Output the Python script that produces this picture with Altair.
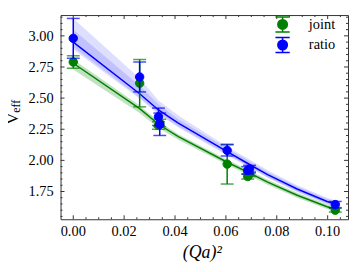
import altair as alt
import pandas as pd

# ---------------- data ----------------
series = ["joint", "ratio"]
colors = ["#008000", "#0000ff"]

qa2 = [0.0, 0.0261, 0.0335, 0.0340, 0.0605, 0.0686, 0.0693, 0.1030]
joint_v = [2.79, 2.62, 2.28, 2.30, 1.97, 1.87, 1.89, 1.600]
joint_err = [0.05, 0.19, 0.03, 0.03, 0.16, 0.02, 0.02, 0.015]
ratio_v = [2.98, 2.67, 2.35, 2.29, 2.08, 1.92, 1.93, 1.645]
ratio_err = [0.16, 0.12, 0.07, 0.09, 0.045, 0.03, 0.03, 0.025]

fit_qa2 = [0.0, 0.0261, 0.0335, 0.0413, 0.0605, 0.0686, 0.0764, 0.0880, 0.0998, 0.1030]
joint_fit = [2.78, 2.415, 2.29, 2.19, 1.985, 1.905, 1.825, 1.72, 1.627, 1.61]
joint_band_lo = [2.73, 2.38, 2.26, 2.165, 1.965, 1.885, 1.805, 1.70, 1.61, 1.593]
joint_band_hi = [2.81, 2.44, 2.315, 2.21, 2.005, 1.925, 1.845, 1.74, 1.645, 1.628]
ratio_fit = [2.95, 2.535, 2.405, 2.30, 2.07, 1.975, 1.885, 1.77, 1.67, 1.65]
ratio_outer_lo = [2.89, 2.495, 2.37, 2.265, 2.04, 1.95, 1.86, 1.745, 1.647, 1.627]
ratio_outer_hi = [3.14, 2.66, 2.48, 2.36, 2.11, 2.015, 1.92, 1.80, 1.70, 1.68]
ratio_inner_lo = [2.91, 2.505, 2.38, 2.275, 2.05, 1.955, 1.865, 1.75, 1.652, 1.632]
ratio_inner_hi = [3.05, 2.60, 2.45, 2.33, 2.095, 2.00, 1.905, 1.79, 1.69, 1.67]

x_major = [0.00, 0.02, 0.04, 0.06, 0.08, 0.10]
x_labels = ["0.00", "0.02", "0.04", "0.06", "0.08", "0.10"]
x_minor = [0.005, 0.01, 0.015, 0.025, 0.03, 0.035, 0.045, 0.05, 0.055,
           0.065, 0.07, 0.075, 0.085, 0.09, 0.095, 0.105]
y_major = [1.75, 2.00, 2.25, 2.50, 2.75, 3.00]
y_labels = ["1.75", "2.00", "2.25", "2.50", "2.75", "3.00"]
y_minor = [1.55, 1.60, 1.65, 1.70, 1.80, 1.85, 1.90, 1.95, 2.05, 2.10, 2.15,
           2.20, 2.30, 2.35, 2.40, 2.45, 2.55, 2.60, 2.65, 2.70, 2.80, 2.85,
           2.90, 2.95, 3.05, 3.10, 3.15]
x_title = "(Qa)²"
y_title = "V"
y_title_sub = "eff"

# ---------------- tables ----------------
pts = pd.concat([
    pd.DataFrame({"qa2": qa2, "v": joint_v,
                  "lo": [a - b for a, b in zip(joint_v, joint_err)],
                  "hi": [a + b for a, b in zip(joint_v, joint_err)],
                  "series": "joint"}),
    pd.DataFrame({"qa2": qa2, "v": ratio_v,
                  "lo": [a - b for a, b in zip(ratio_v, ratio_err)],
                  "hi": [a + b for a, b in zip(ratio_v, ratio_err)],
                  "series": "ratio"}),
])
fits = pd.concat([
    pd.DataFrame({"qa2": fit_qa2, "v": joint_fit, "lo": joint_band_lo, "hi": joint_band_hi,
                  "lo2": joint_band_lo, "hi2": joint_band_hi, "series": "joint"}),
    pd.DataFrame({"qa2": fit_qa2, "v": ratio_fit, "lo": ratio_outer_lo, "hi": ratio_outer_hi,
                  "lo2": ratio_inner_lo, "hi2": ratio_inner_hi, "series": "ratio"}),
])

W, H = 290, 206
FONT = "'Liberation Serif', 'Times New Roman', Times, 'DejaVu Serif', serif"
FRAME = "#333333"
xscale = alt.Scale(domain=[-0.005, 0.108], nice=False, zero=False)
yscale = alt.Scale(domain=[1.527, 3.167], nice=False, zero=False)
cscale = alt.Scale(domain=series, range=colors)

def X(f):
    return alt.X(f + ":Q", scale=xscale, axis=None)

def Y(f):
    return alt.Y(f + ":Q", scale=yscale, axis=None)

COL = alt.Color("series:N", scale=cscale, legend=None)

fb = alt.Chart(fits)
band_outer = fb.mark_area(opacity=0.13).encode(x=X("qa2"), y=Y("lo"), y2="hi:Q", color=COL)
band_inner = fb.mark_area(opacity=0.13).encode(x=X("qa2"), y=Y("lo2"), y2="hi2:Q", color=COL)
lines = fb.mark_line(strokeWidth=1.5).encode(x=X("qa2"), y=Y("v"), color=COL, detail="series:N")

layers = [band_outer, band_inner, lines]
for s in series:
    c = alt.Chart(pts).transform_filter(alt.datum.series == s)
    layers.append(c.mark_rule(strokeWidth=1.5).encode(x=X("qa2"), y=Y("lo"), y2="hi:Q", color=COL))
    for f in ["lo", "hi"]:
        layers.append(c.mark_tick(orient="horizontal", size=13, thickness=1.5).encode(
            x=X("qa2"), y=Y(f), color=COL))
    layers.append(c.mark_point(size=72, opacity=1, strokeWidth=1, filled=False).encode(
        x=X("qa2"), y=Y("v"), fill=alt.Fill("series:N", scale=cscale, legend=None),
        stroke=alt.Stroke("series:N", scale=cscale, legend=None)))

# inward frame ticks
def xticks(vals, L):
    d = alt.Chart(pd.DataFrame({"t": vals}))
    return [d.mark_rule(color=FRAME, strokeWidth=1).encode(x=X("t"), y=alt.value(H), y2=alt.value(H - L)),
            d.mark_rule(color=FRAME, strokeWidth=1).encode(x=X("t"), y=alt.value(0), y2=alt.value(L))]

def yticks(vals, L):
    d = alt.Chart(pd.DataFrame({"t": vals}))
    return [d.mark_rule(color=FRAME, strokeWidth=1).encode(y=Y("t"), x=alt.value(0), x2=alt.value(L)),
            d.mark_rule(color=FRAME, strokeWidth=1).encode(y=Y("t"), x=alt.value(W), x2=alt.value(W - L))]

layers += xticks(x_major, 4) + xticks(x_minor, 2) + yticks(y_major, 4) + yticks(y_minor, 2)

# tick labels
layers.append(alt.Chart(pd.DataFrame({"t": x_major, "lab": x_labels})).mark_text(
    font=FONT, fontSize=14.5, align="center", baseline="alphabetic", color="black"
).encode(x=X("t"), y=alt.value(H + 16.7), text="lab:N"))
layers.append(alt.Chart(pd.DataFrame({"t": y_major, "lab": y_labels})).mark_text(
    font=FONT, fontSize=14.5, align="right", baseline="alphabetic", color="black", dy=5
).encode(y=Y("t"), x=alt.value(-7), text="lab:N"))

# axis titles
layers.append(alt.Chart(pd.DataFrame({"t": [x_title]})).mark_text(
    font=FONT, fontSize=18, fontStyle="italic", align="center", baseline="alphabetic", color="black"
).encode(text="t:N", x=alt.value(143), y=alt.value(245.5)))
layers.append(alt.Chart(pd.DataFrame({"t": [y_title]})).mark_text(
    font=FONT, fontSize=17, angle=270, align="center", baseline="alphabetic", color="black"
).encode(text="t:N", x=alt.value(-42.5), y=alt.value(104.5)))
layers.append(alt.Chart(pd.DataFrame({"t": [y_title_sub]})).mark_text(
    font=FONT, fontSize=12, angle=270, align="center", baseline="alphabetic", color="black"
).encode(text="t:N", x=alt.value(-40.5), y=alt.value(92)))

# legend (error-bar symbol + label)
sym = ("M-0.9,-0.95L0.9,-0.95M0,-0.95L0,0.95M-0.9,0.95L0.9,0.95"
       "M0.6,0A0.6,0.6,0,1,1,-0.6,0A0.6,0.6,0,1,1,0.6,0Z")
for i, (s, col) in enumerate(zip(series, colors)):
    ld = alt.Chart(pd.DataFrame({"series": [s]}))
    yy = 9.5 + 20.7 * i
    layers.append(ld.mark_point(shape=sym, size=256, filled=True, fill=col, stroke=col,
                                strokeWidth=1.5, opacity=1).encode(
        x=alt.value(224), y=alt.value(yy)))
    layers.append(ld.mark_text(font=FONT, fontSize=14.5, align="left", baseline="alphabetic",
                               color="black").encode(
        text="series:N", x=alt.value(250.5), y=alt.value(yy + 4.5)))

chart = alt.layer(*layers).properties(
    width=W, height=H,
    autosize=alt.AutoSizeParams(type="none"),
    padding={"left": 53, "top": 6, "right": 1, "bottom": 44},
).configure_view(stroke=FRAME, strokeWidth=1)

chart.save("out.html", embed_options={"renderer": "svg", "actions": False})
